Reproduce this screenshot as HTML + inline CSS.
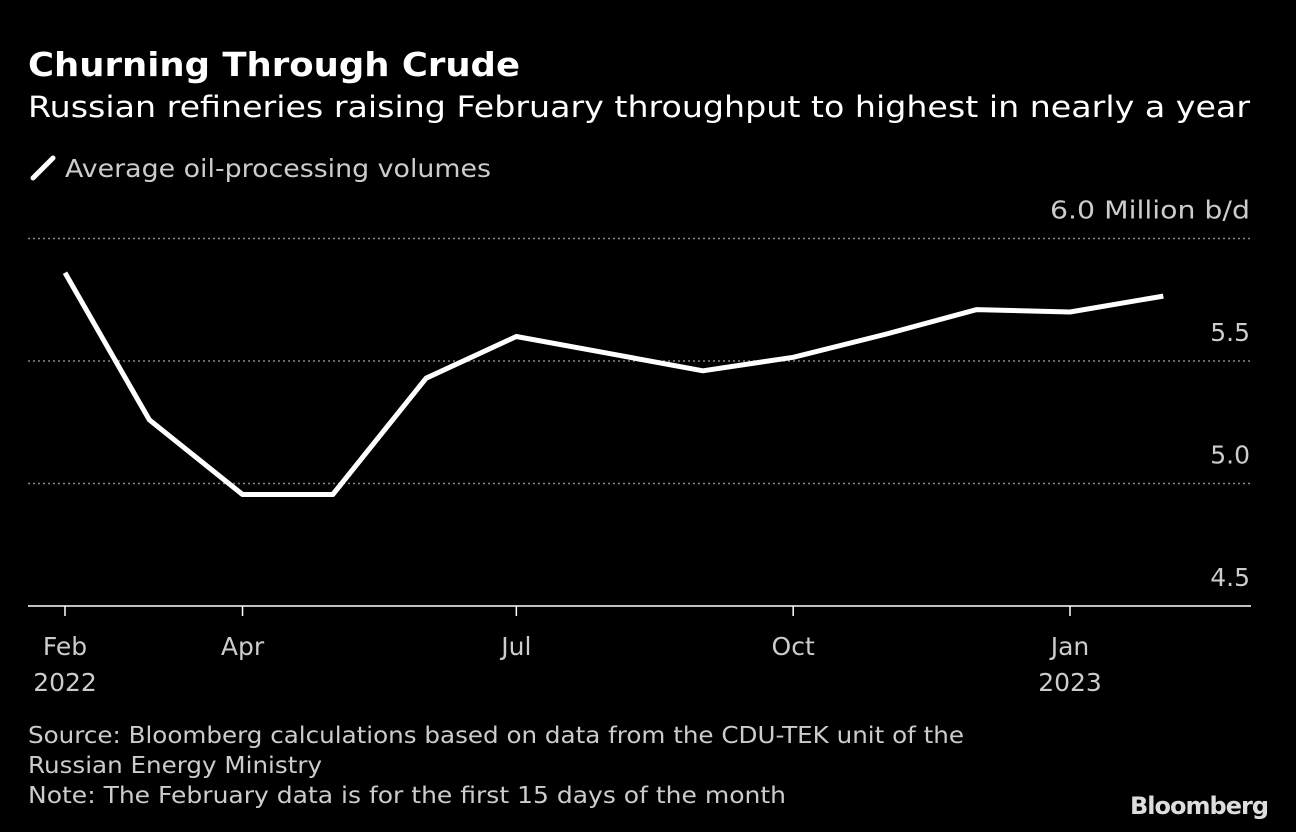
<!DOCTYPE html>
<html><head><meta charset="utf-8"><style>
body{margin:0;background:#000;width:1296px;height:832px;overflow:hidden;font-family:"DejaVu Sans","Liberation Sans",sans-serif;color:#fff}
svg{position:absolute;left:0;top:0}
text{font-family:"DejaVu Sans","Liberation Sans",sans-serif}
</style></head><body>
<svg width="1296" height="832">
<text x="28" y="76" font-size="33" font-weight="bold" fill="#fff" textLength="492" lengthAdjust="spacingAndGlyphs">Churning Through Crude</text>
<text x="28" y="117" font-size="29" fill="#fff" textLength="1222" lengthAdjust="spacingAndGlyphs">Russian refineries raising February throughput to highest in nearly a year</text>
<line x1="33" y1="178" x2="53" y2="158" stroke="#fff" stroke-width="5" stroke-linecap="round"/>
<text x="65" y="177" font-size="25" fill="#ccc" textLength="426" lengthAdjust="spacingAndGlyphs">Average oil-processing volumes</text>
<g id="grid"></g><g id="ylabels"></g><g id="xlabels"></g>
<path id="line" fill="none" stroke="#fff" stroke-width="5" stroke-linejoin="round"/>
<text x="28" y="743" font-size="23" fill="#ccc" textLength="936" lengthAdjust="spacingAndGlyphs">Source: Bloomberg calculations based on data from the CDU-TEK unit of the</text>
<text x="28" y="773" font-size="23" fill="#ccc" textLength="294" lengthAdjust="spacingAndGlyphs">Russian Energy Ministry</text>
<text x="28" y="803" font-size="23" fill="#ccc" textLength="758" lengthAdjust="spacingAndGlyphs">Note: The February data is for the first 15 days of the month</text>
<text x="1268" y="814" font-size="24" font-weight="bold" fill="#ddd" text-anchor="end" letter-spacing="-1">Bloomberg</text>
</svg>
<script>
const dates=["2022-02-01","2022-03-01","2022-04-01","2022-05-01","2022-06-01","2022-07-01","2022-08-01","2022-09-01","2022-10-01","2022-11-01","2022-12-01","2023-01-01","2023-02-01"];
const values=[5.86,5.26,4.955,4.955,5.43,5.6,5.53,5.46,5.515,5.61,5.71,5.70,5.765];
const yTicks=[4.5,5.0,5.5,6.0];
const yTickLabels=["4.5","5.0","5.5","6.0 Million b/d"];
const xTickDates=["2022-02-01","2022-04-01","2022-07-01","2022-10-01","2023-01-01"];
const xTickLabels=["Feb","Apr","Jul","Oct","Jan"];
const xTickYears=["2022","","","","2023"];
const NS="http://www.w3.org/2000/svg";
const t0=Date.parse("2022-02-01"),pxPerDay=3.009;
function x(d){return 65+(Date.parse(d)-t0)/864e5*pxPerDay;}
function y(v){return 606-(v-4.5)*245;}
function mk(tag,attrs,parent){const e=document.createElementNS(NS,tag);for(const k in attrs)e.setAttribute(k,attrs[k]);document.getElementById(parent).appendChild(e);return e;}
yTicks.forEach((v,i)=>{
 let l;
 if(v===4.5){l=mk("line",{x1:28,x2:1251,y1:y(v),y2:y(v),stroke:"#fff","stroke-width":1.5},"grid");}
 else{l=mk("line",{x1:28,x2:1251,y1:y(v),y2:y(v),stroke:"#888","stroke-width":1.5,"stroke-dasharray":"2,3"},"grid");}
 
 
 const attrs={x:1250,y:y(v)-20,"font-size":25,fill:"#ccc","text-anchor":"end"};
 if(i===yTicks.length-1){attrs.textLength=200;attrs.lengthAdjust="spacingAndGlyphs";}
 const t=mk("text",attrs,"ylabels");
 t.textContent=yTickLabels[i];
 
 
});
xTickDates.forEach((d,i)=>{
 const tk=mk("line",{x1:x(d),x2:x(d),y1:606,y2:616,stroke:"#fff","stroke-width":1.5},"xlabels");
 
 
 const t=mk("text",{x:x(d),y:655,"font-size":25,fill:"#ccc","text-anchor":"middle"},"xlabels");
 t.textContent=xTickLabels[i];
 
 
 if(xTickYears[i]){const ty=mk("text",{x:x(d),y:691,"font-size":25,fill:"#ccc","text-anchor":"middle"},"xlabels");
 ty.textContent=xTickYears[i];
 
 }
});
document.getElementById("line").setAttribute("d",dates.map((d,i)=>(i?"L":"M")+x(d).toFixed(1)+","+y(values[i]).toFixed(1)).join(""));
</script>
</body></html>
